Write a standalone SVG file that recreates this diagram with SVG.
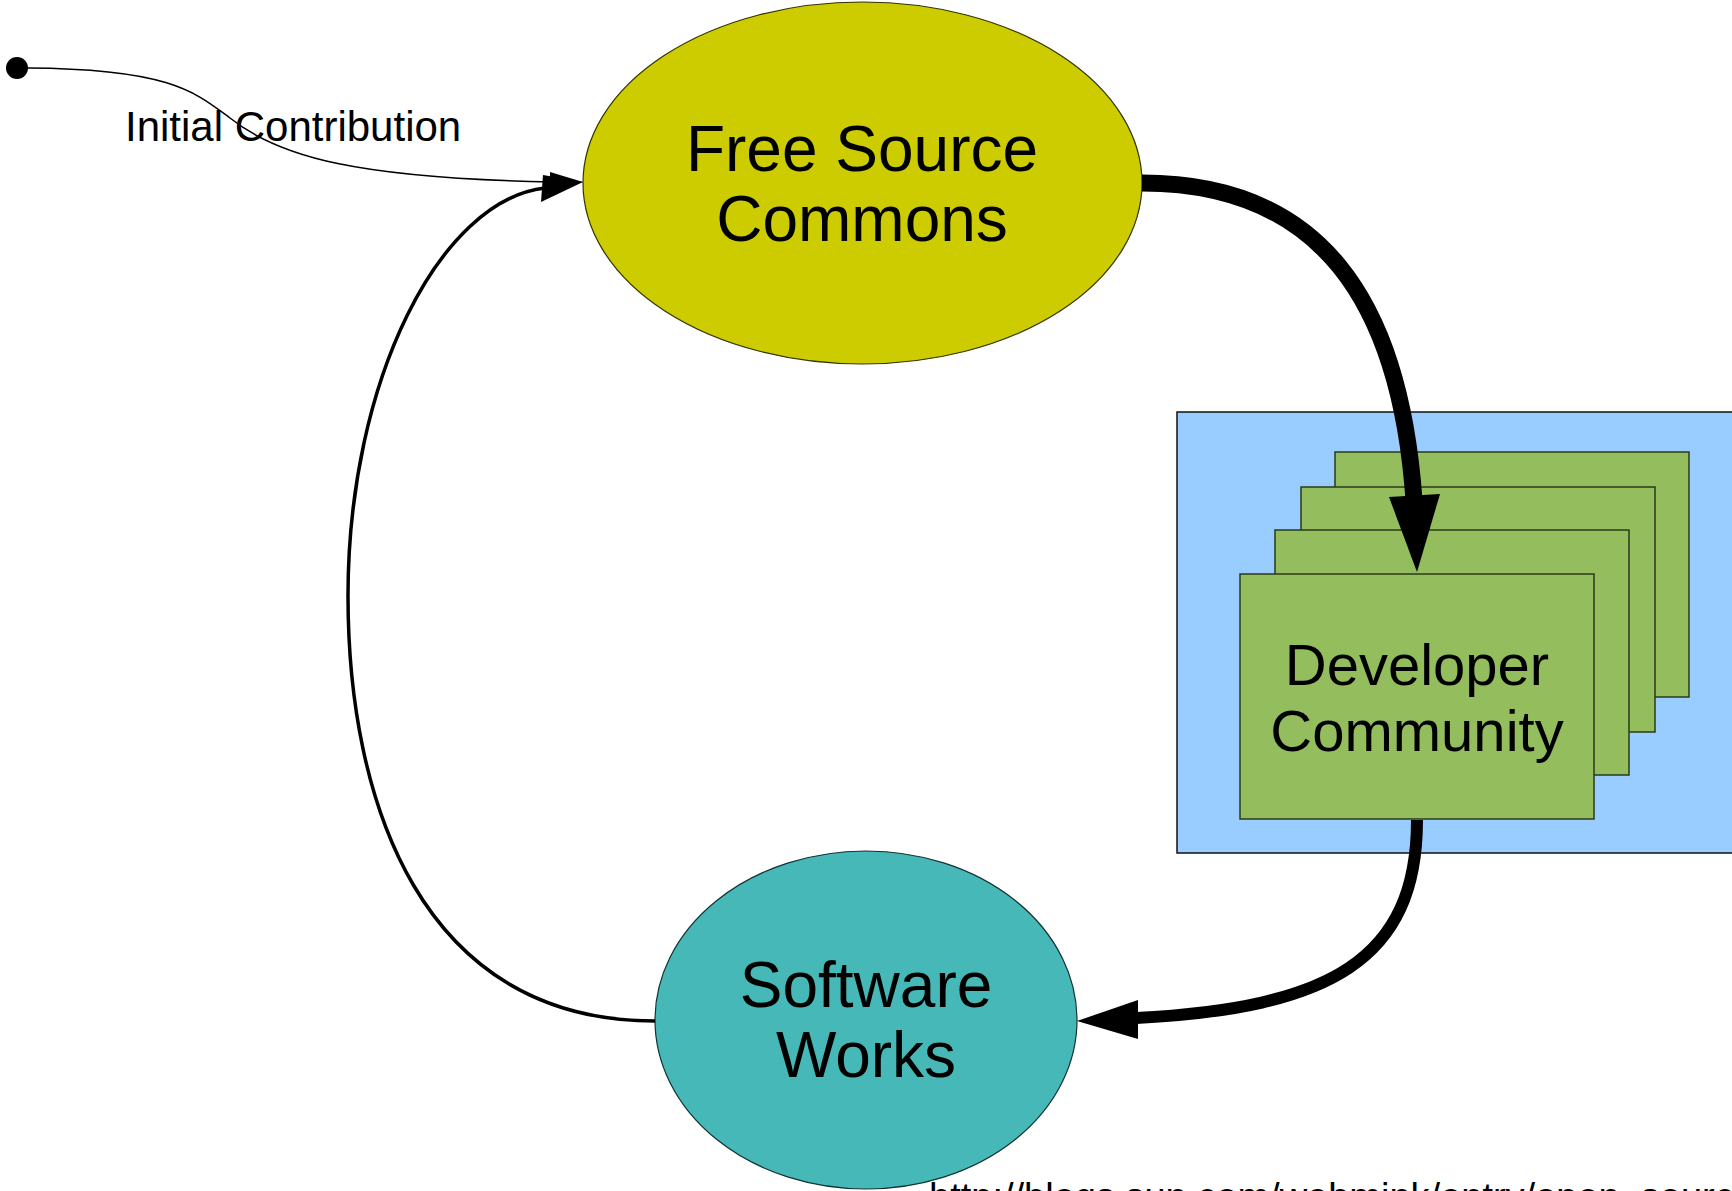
<svg xmlns="http://www.w3.org/2000/svg" width="1732" height="1191" viewBox="0 0 1732 1191">
<style>
text { font-family: "Liberation Sans", Arial, sans-serif; fill: #000; }
.big { font-size: 64px; text-anchor: middle; }
.dev { font-size: 58px; text-anchor: middle; }
.card { fill: #94bd5e; stroke: #2a3a1a; stroke-width: 1.5; }
.conn { fill: none; stroke: #000; }
</style>
<rect width="1732" height="1191" fill="#fff"/>
<g id="free-source-commons">
  <ellipse cx="862.5" cy="183" rx="279.5" ry="181" fill="#cccc00" stroke="#333300" stroke-width="1.2"/>
  <text class="big" x="862" y="171">Free Source</text>
  <text class="big" x="862" y="241">Commons</text>
</g>
<g id="developer-community">
  <rect x="1177" y="412" width="580" height="441" fill="#99ccff" stroke="#111" stroke-width="1.5"/>
  <rect class="card" x="1335" y="452" width="354" height="245"/>
  <rect class="card" x="1301" y="487" width="354" height="245"/>
  <rect class="card" x="1275" y="530" width="354" height="245"/>
  <rect class="card" x="1240" y="574" width="354" height="245"/>
  <text class="dev" x="1417" y="685">Developer</text>
  <text class="dev" x="1417" y="751">Community</text>
</g>
<g id="software-works">
  <ellipse cx="866" cy="1020" rx="211" ry="169" fill="#47b8b8" stroke="#113333" stroke-width="1.2"/>
  <text class="big" x="866" y="1007">Software</text>
  <text class="big" x="866" y="1077">Works</text>
</g>
<g id="connectors">
  <circle cx="17" cy="68" r="11" fill="#000"/>
  <path class="conn" stroke-width="1.5" d="M28,68 C170,69 195,92 230,118 C280,158 360,178 552,182"/>
  <polygon points="583,182 550,172 550,192" fill="#000"/>
  <path class="conn" stroke-width="3.5" d="M655,1021 C420,1021 348,800 348,596 C348,380 440,200 545,188"/>
  <polygon points="583,182 543,175 541,202" fill="#000"/>
  <path class="conn" stroke-width="17" d="M1142,183 C1320,183 1400,300 1414,500"/>
  <polygon points="1417,572 1389,497 1440,494" fill="#000"/>
  <path class="conn" stroke-width="12" d="M1417,820 C1417,960 1330,1008 1136,1018"/>
  <polygon points="1077,1021 1138,1000 1138,1039" fill="#000"/>
</g>
<text x="125" y="141" font-size="42">Initial Contribution</text>
<text x="929" y="1210" font-size="38">http://blogs.sun.com/webmink/entry/open_source</text>
</svg>
